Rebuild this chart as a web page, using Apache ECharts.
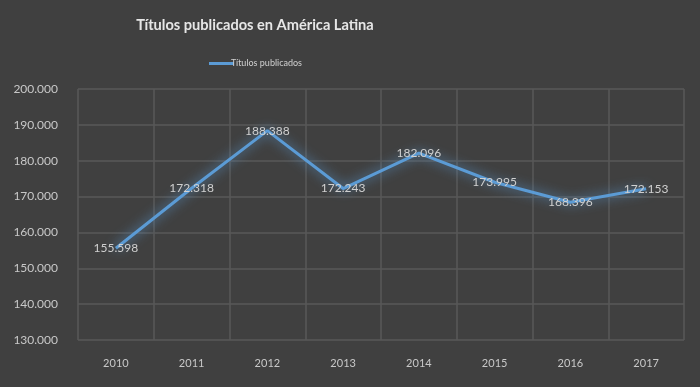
<!DOCTYPE html>
<html><head><meta charset="utf-8">
<script src="https://cdn.jsdelivr.net/npm/echarts@6/dist/echarts.min.js"></script>
<style>html,body{margin:0;padding:0;background:#404040}#c{width:700px;height:387px}</style>
</head><body><div id="c"></div>
<script>
const categories = ['2010','2011','2012','2013','2014','2015','2016','2017'];
const titulos = [155598, 172318, 188388, 172243, 182096, 173995, 168396, 172153];
const seriesName = 'Títulos publicados';
const titleText = 'Títulos publicados en América Latina';

function fmt(v){ return String(Math.round(v)).replace(/\B(?=(\d{3})+(?!\d))/g,'.'); }

const chart = echarts.init(document.getElementById('c'));
chart.setOption({
  backgroundColor:'#404040',
  animation:false,
  title:{text:titleText,left:250,textAlign:'center',top:13,
    textStyle:{color:'#e6e6e6',fontSize:14.6,fontWeight:'bold',fontFamily:'Lato'}},
  legend:{top:54,left:204,itemWidth:25,itemHeight:3,itemGap:0,
    textStyle:{color:'#d0d0d0',fontSize:9,fontFamily:'Lato',padding:[0,0,0,-8]},
    data:[{name:seriesName,icon:'rect',itemStyle:{color:'#5b9bd5',opacity:1}}]},
  grid:{left:78,right:16,top:89,bottom:47},
  xAxis:{type:'category',data:categories,boundaryGap:true,
    axisLine:{show:false},axisTick:{show:false},
    axisLabel:{color:'#c8c8c8',fontSize:11,fontFamily:'Lato',margin:18},
    splitLine:{show:true,lineStyle:{color:'#595959',width:1.5}}},
  yAxis:{type:'value',min:130000,max:200000,interval:10000,
    axisLine:{show:false},axisTick:{show:false},
    axisLabel:{color:'#c8c8c8',fontSize:12,fontFamily:'Lato',margin:20,formatter:fmt},
    splitLine:{lineStyle:{color:'#595959',width:1.5}}},
  series:[{name:seriesName,type:'line',data:titulos,
    symbol:'circle',symbolSize:2,showSymbol:true,smooth:false,
    lineStyle:{color:'#5b9bd5',width:3,shadowColor:'rgba(91,155,213,1)',shadowBlur:12},
    itemStyle:{color:'transparent',borderWidth:0},
    labelLayout:{hideOverlap:false},
    label:{show:true,position:'inside',offset:[-1,4],color:'#d0d0d0',fontSize:12,fontFamily:'Lato',
      formatter:p=>fmt(p.value)}}]
});
</script></body></html>
